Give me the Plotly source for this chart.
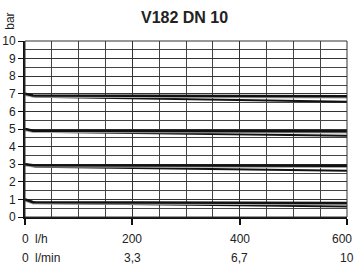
import plotly.graph_objects as go

# Data (flow in l/h, pressure in bar)
flow_upper = [0, 15, 600]
flow_lower = [0, 20, 600]
upper_7 = [7.0, 6.9, 6.86]
lower_7 = [7.0, 6.83, 6.55]
upper_5 = [5.0, 4.9, 4.87]
lower_5 = [5.0, 4.84, 4.62]
upper_3 = [3.0, 2.94, 2.91]
lower_3 = [3.0, 2.86, 2.63]
upper_1 = [1.0, 0.84, 0.8]
lower_1 = [1.0, 0.8, 0.6]

x_tick_vals = [0, 200, 400, 600]
x_tick_lh = ["0", "200", "400", "600"]
x_tick_lmin = ["0", "3,3", "6,7", "10"]
y_tick_vals = list(range(0, 11))

FONT = "Liberation Sans Narrow, Arial Narrow, Liberation Sans, Arial, sans-serif"

fig = go.Figure()
for up, lo in [(upper_7, lower_7), (upper_5, lower_5), (upper_3, lower_3), (upper_1, lower_1)]:
    fig.add_trace(go.Scatter(x=flow_lower, y=lo, mode="lines",
                             line=dict(color="#111111", width=2), showlegend=False))
    fig.add_trace(go.Scatter(x=flow_upper, y=[v - 0.07 for v in up], mode="lines",
                             line=dict(color="#aaaaaa", width=2), showlegend=False))
    fig.add_trace(go.Scatter(x=flow_upper, y=up, mode="lines",
                             line=dict(color="#111111", width=2.5), showlegend=False))

fig.update_layout(
    width=355, height=268,
    margin=dict(l=25, r=8, t=41, b=51, autoexpand=False),
    paper_bgcolor="white", plot_bgcolor="white",
    font=dict(family=FONT, size=12, color="#222222"),
    title=dict(text="<b>V182 DN 10</b>", x=0.52, xanchor="center", y=0.935, yanchor="middle",
               automargin=False,
               font=dict(family="Liberation Sans, Arial, sans-serif", size=16, color="#222222")),
    xaxis=dict(range=[0, 600], tickvals=x_tick_vals, showticklabels=False,
               showgrid=True, gridcolor="#333333", gridwidth=1,
               minor=dict(dtick=50, showgrid=True, gridcolor="#444444", gridwidth=1, ticks=""),
               showline=True, linecolor="#111111", linewidth=2,
               ticks="outside", ticklen=6, tickwidth=2, tickcolor="#111111",
               zeroline=False, fixedrange=True, automargin=False),
    yaxis=dict(range=[0, 10], tickvals=y_tick_vals,
               showgrid=True, gridcolor="#333333", gridwidth=1,
               minor=dict(dtick=0.5, showgrid=True, gridcolor="#444444", gridwidth=1, ticks=""),
               showline=True, linecolor="#111111", linewidth=2,
               ticks="outside", ticklen=5, tickwidth=1, tickcolor="#111111",
               zeroline=False, fixedrange=True, automargin=False),
)

fig.add_shape(type="rect", xref="paper", yref="paper", x0=0, x1=1, y0=0, y1=1,
              line=dict(color="#333333", width=1))

for i, (xv, t1, t2) in enumerate(zip(x_tick_vals, x_tick_lh, x_tick_lmin)):
    last = i == len(x_tick_vals) - 1
    fig.add_annotation(x=xv, y=0, xref="x", yref="paper", text=t1, showarrow=False,
                       xanchor="right" if last else "center", xshift=7 if last else 0,
                       yanchor="middle", yshift=-22, font=dict(size=12))
    fig.add_annotation(x=xv, y=0, xref="x", yref="paper", text=t2, showarrow=False,
                       yanchor="middle", yshift=-41, font=dict(size=12))
fig.add_annotation(x=0, y=0, xref="x", yref="paper", text="l/h", showarrow=False,
                   xanchor="left", yanchor="middle", xshift=8, yshift=-22, font=dict(size=12))
fig.add_annotation(x=0, y=0, xref="x", yref="paper", text="l/min", showarrow=False,
                   xanchor="left", yanchor="middle", xshift=8, yshift=-41, font=dict(size=12))
fig.add_annotation(x=-0.045, y=1.112, xref="paper", yref="paper",
                   text="bar", showarrow=False, textangle=-90,
                   font=dict(size=12), xanchor="center", yanchor="middle")

fig.write_html("out.html", config={"displayModeBar": False},
               post_script="document.body.style.margin='0';document.body.style.overflow='hidden';")
